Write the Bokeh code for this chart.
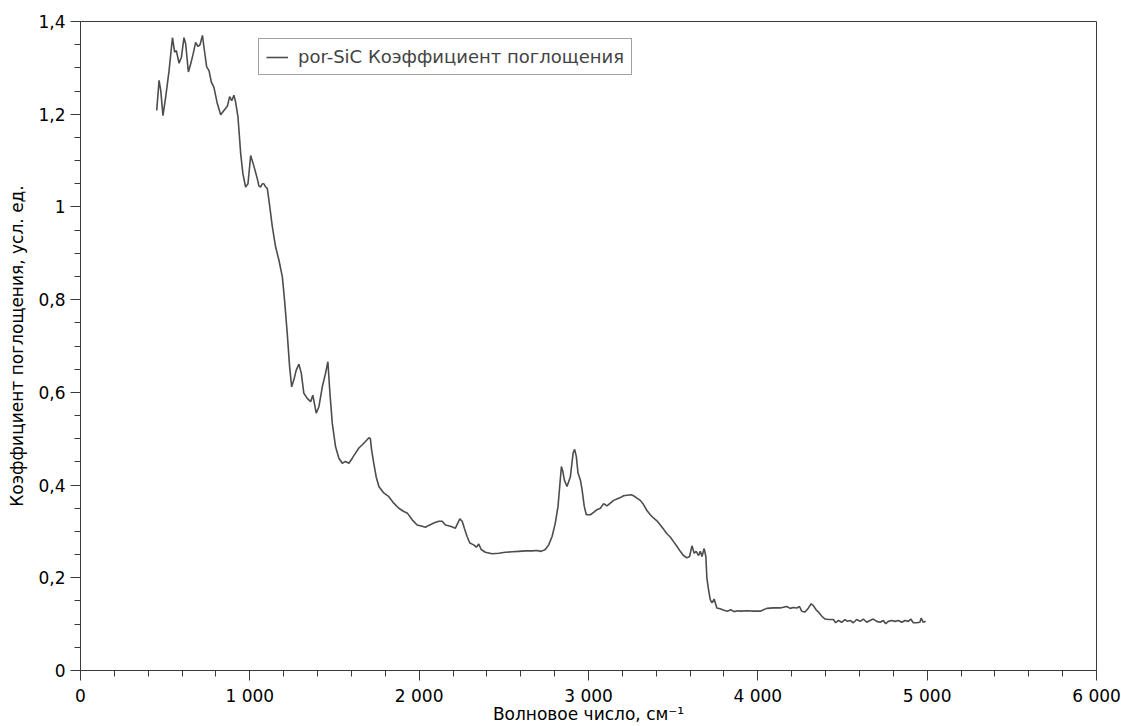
from bokeh.plotting import figure
from bokeh.models import FixedTicker, CustomJSTickFormatter, Legend, LegendItem, Range1d
from bokeh.embed import file_html
from bokeh.resources import INLINE

series_name = "por-SiC Коэффициент поглощения"
x_label = "Волновое число, см⁻¹"
y_label = "Коэффициент поглощения, усл. ед."

x_ticks = [0, 1000, 2000, 3000, 4000, 5000, 6000]
y_ticks = [0, 0.2, 0.4, 0.6, 0.8, 1.0, 1.2, 1.4]

wavenumber = [
    450, 464, 474, 487, 503, 523, 543, 556, 566, 582, 596, 611, 621, 637, 651, 664, 680, 694, 706, 720,
    729, 745, 759, 773, 788, 808, 828, 847, 867, 881, 893, 906, 916, 930, 946, 959, 975, 989, 1005, 1024,
    1044, 1054, 1064, 1074, 1083, 1093, 1103, 1113, 1133, 1152, 1172, 1192, 1205, 1221, 1235, 1247, 1260, 1274, 1290, 1304,
    1319, 1339, 1359, 1372, 1392, 1408, 1428, 1447, 1461, 1473, 1487, 1506, 1526, 1546, 1565, 1585, 1605, 1624, 1644, 1664,
    1683, 1703, 1712, 1719, 1732, 1746, 1762, 1791, 1821, 1850, 1880, 1909, 1929, 1959, 1988, 2018, 2037, 2057, 2086, 2116,
    2136, 2155, 2185, 2214, 2228, 2240, 2254, 2267, 2283, 2299, 2322, 2338, 2352, 2366, 2391, 2431, 2470, 2509, 2549, 2588,
    2627, 2667, 2696, 2720, 2745, 2765, 2785, 2804, 2820, 2830, 2840, 2848, 2858, 2873, 2893, 2909, 2918, 2928, 2938, 2952,
    2962, 2975, 2987, 3011, 3030, 3050, 3070, 3089, 3109, 3129, 3148, 3168, 3188, 3207, 3227, 3251, 3266, 3286, 3306, 3325,
    3345, 3365, 3384, 3404, 3424, 3443, 3463, 3483, 3502, 3522, 3542, 3561, 3581, 3597, 3611, 3624, 3636, 3650, 3660, 3670,
    3683, 3693, 3699, 3709, 3719, 3729, 3742, 3758, 3777, 3800, 3820, 3840, 3860, 3880, 3896, 3935, 3974, 4014, 4053, 4092,
    4132, 4171, 4191, 4210, 4230, 4246, 4259, 4279, 4299, 4315, 4328, 4344, 4358, 4378, 4397, 4417, 4446, 4460, 4476, 4495,
    4515, 4529, 4545, 4564, 4584, 4604, 4623, 4643, 4663, 4682, 4702, 4722, 4741, 4755, 4771, 4790, 4810, 4830, 4850, 4869,
    4889, 4903, 4918, 4938, 4957, 4965, 4977, 4991,
]

absorption = [
    1.208, 1.273, 1.251, 1.197, 1.237, 1.294, 1.365, 1.334, 1.337, 1.310, 1.323, 1.365, 1.352, 1.291, 1.309, 1.328, 1.355, 1.346, 1.350, 1.370,
    1.345, 1.302, 1.294, 1.269, 1.258, 1.223, 1.199, 1.208, 1.217, 1.238, 1.229, 1.241, 1.226, 1.194, 1.115, 1.072, 1.043, 1.050, 1.111, 1.088,
    1.061, 1.045, 1.043, 1.050, 1.050, 1.043, 1.040, 1.014, 0.957, 0.914, 0.885, 0.849, 0.799, 0.727, 0.655, 0.612, 0.627, 0.648, 0.661, 0.641,
    0.598, 0.587, 0.580, 0.594, 0.555, 0.569, 0.612, 0.641, 0.666, 0.598, 0.533, 0.483, 0.458, 0.447, 0.451, 0.447, 0.458, 0.469, 0.480, 0.487,
    0.494, 0.502, 0.500, 0.476, 0.447, 0.418, 0.397, 0.383, 0.375, 0.361, 0.350, 0.343, 0.340, 0.325, 0.314, 0.311, 0.309, 0.313, 0.318, 0.322,
    0.322, 0.314, 0.311, 0.307, 0.318, 0.327, 0.322, 0.307, 0.289, 0.275, 0.271, 0.266, 0.273, 0.261, 0.255, 0.252, 0.253, 0.255, 0.256, 0.257,
    0.258, 0.258, 0.259, 0.257, 0.261, 0.271, 0.289, 0.318, 0.354, 0.397, 0.440, 0.430, 0.410, 0.397, 0.418, 0.469, 0.477, 0.462, 0.426, 0.411,
    0.390, 0.354, 0.336, 0.336, 0.341, 0.347, 0.350, 0.360, 0.355, 0.361, 0.367, 0.370, 0.373, 0.377, 0.378, 0.379, 0.377, 0.372, 0.367, 0.358,
    0.345, 0.336, 0.329, 0.323, 0.314, 0.305, 0.295, 0.288, 0.278, 0.268, 0.257, 0.248, 0.243, 0.246, 0.269, 0.253, 0.257, 0.248, 0.257, 0.246,
    0.263, 0.246, 0.200, 0.174, 0.153, 0.146, 0.154, 0.135, 0.133, 0.130, 0.128, 0.131, 0.127, 0.129, 0.128, 0.129, 0.128, 0.128, 0.134, 0.135,
    0.135, 0.138, 0.134, 0.136, 0.135, 0.138, 0.128, 0.126, 0.135, 0.144, 0.140, 0.131, 0.126, 0.117, 0.111, 0.110, 0.110, 0.103, 0.108, 0.104,
    0.110, 0.106, 0.108, 0.103, 0.110, 0.106, 0.111, 0.104, 0.108, 0.111, 0.106, 0.104, 0.108, 0.101, 0.106, 0.108, 0.106, 0.108, 0.104, 0.108,
    0.106, 0.111, 0.103, 0.103, 0.104, 0.113, 0.104, 0.106,
]

FONT = "DejaVu Sans"
FS = "17px"

p = figure(width=1121, height=726, output_backend="svg", toolbar_location=None,
           x_range=Range1d(0, 6000), y_range=Range1d(0, 1.4),
           min_border_left=80, min_border_right=25, min_border_top=21, min_border_bottom=55)
p.background_fill_color = "white"
p.border_fill_color = "white"
p.outline_line_color = "#3a3a3a"
p.outline_line_width = 1
p.grid.visible = False

line = p.line(wavenumber, absorption, line_color="#4d4d4d", line_width=1.6)

p.xaxis.ticker = FixedTicker(ticks=x_ticks, minor_ticks=list(range(0, 6001, 200)))
p.yaxis.ticker = FixedTicker(ticks=y_ticks, minor_ticks=[i * 0.05 for i in range(0, 29)])
p.xaxis.formatter = CustomJSTickFormatter(code="""
    return Math.round(tick).toString().replace(/\\B(?=(\\d{3})+(?!\\d))/g, ' ');
""")
p.yaxis.formatter = CustomJSTickFormatter(code="""
    return (Math.round(tick * 10) / 10).toString().replace('.', ',');
""")

for ax in (p.xaxis[0], p.yaxis[0]):
    ax.axis_line_color = "#3a3a3a"
    ax.major_tick_line_color = "#3a3a3a"
    ax.minor_tick_line_color = "#3a3a3a"
    ax.major_tick_out = 10
    ax.major_tick_in = 0
    ax.minor_tick_out = 6
    ax.minor_tick_in = 0
    ax.major_label_text_font = FONT
    ax.major_label_text_font_size = FS
    ax.major_label_text_color = "black"
    ax.axis_label_text_font = FONT
    ax.axis_label_text_font_size = FS
    ax.axis_label_text_font_style = "normal"
    ax.axis_label_text_color = "black"

p.xaxis.axis_label = x_label
p.yaxis.axis_label = y_label
p.xaxis.major_label_standoff = 5
p.yaxis.major_label_standoff = 5
p.xaxis.axis_label_standoff = -5
p.yaxis.axis_label_standoff = 8

legend = Legend(items=[LegendItem(label=series_name, renderers=[line])],
                location=(178, 595), padding=7, spacing=0, margin=0,
                glyph_width=22, label_standoff=10,
                label_text_font=FONT, label_text_font_size="18px",
                border_line_color="#444444", border_line_width=1,
                background_fill_color="white", background_fill_alpha=1)
p.add_layout(legend, "center")

open("out.html", "w").write(file_html(p, INLINE))
